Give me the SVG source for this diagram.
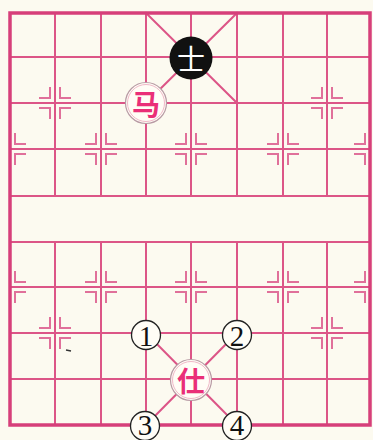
<svg xmlns="http://www.w3.org/2000/svg" width="373" height="440" viewBox="0 0 373 440">
<defs>
<style>
.ln{stroke:#dc5587;stroke-width:2;fill:none;stroke-linecap:square}
.bd{stroke:#d63f7a;stroke-width:3.5;fill:none}
.mk{stroke:#e0709a;stroke-width:2;fill:none}
.pc{fill:#fffdf6;stroke:#b89aa4;stroke-width:1.2}
.pr{fill:none;stroke:#f0b8c8;stroke-width:1}
.rt{font-family:"Noto Sans CJK SC","Noto Sans",sans-serif;font-size:28px;font-weight:bold;fill:#ea2f78;text-anchor:middle;dominant-baseline:central}
.bt{font-family:"Noto Sans CJK SC","Noto Sans",sans-serif;font-size:28px;fill:#ffffff;text-anchor:middle;dominant-baseline:central}
.nc{fill:#fffdf6;stroke:#222;stroke-width:1.3}
.nt{font-family:"Liberation Serif","DejaVu Serif",serif;font-size:29px;fill:#111;text-anchor:middle;dominant-baseline:central}
</style>
<g id="mkR"><path class="mk" d="M5,-16V-5H16M5,16V5H16"/></g>
<g id="mkL"><path class="mk" d="M-5,-16V-5H-16M-5,16V5H-16"/></g>
</defs>
<rect width="373" height="440" fill="#fcfaf0"/>
<g id="connectors">
<path class="ln" d="M10,57H370M10,103H370M10,149H370M10,196H370M10,242H370M10,287H370M10,333H370M10,379H370"/>
<path class="ln" d="M55,13V196M101,13V196M146,13V196M191,13V196M237,13V196M283,13V196M327,13V196"/>
<path class="ln" d="M55,242V425M101,242V425M146,242V425M191,242V425M237,242V425M283,242V425M327,242V425"/>
<path class="ln" d="M146,13L237,103M237,13L146,103M146,333L237,425M237,333L146,425"/>
<rect class="bd" x="10" y="13" width="360" height="412"/>
</g>
<g id="markers">
<use href="#mkR" x="10" y="149"/>
<use href="#mkL" x="101" y="149"/><use href="#mkR" x="101" y="149"/>
<use href="#mkL" x="191" y="149"/><use href="#mkR" x="191" y="149"/>
<use href="#mkL" x="283" y="149"/><use href="#mkR" x="283" y="149"/>
<use href="#mkL" x="370" y="149"/>
<use href="#mkL" x="55" y="103"/><use href="#mkR" x="55" y="103"/>
<use href="#mkL" x="327" y="103"/><use href="#mkR" x="327" y="103"/>
<use href="#mkR" x="10" y="287"/>
<use href="#mkL" x="101" y="287"/><use href="#mkR" x="101" y="287"/>
<use href="#mkL" x="191" y="287"/><use href="#mkR" x="191" y="287"/>
<use href="#mkL" x="283" y="287"/><use href="#mkR" x="283" y="287"/>
<use href="#mkL" x="370" y="287"/>
<use href="#mkL" x="55" y="333"/><use href="#mkR" x="55" y="333"/>
<use href="#mkL" x="327" y="333"/><use href="#mkR" x="327" y="333"/>
</g>
<path d="M66,350L71,351" stroke="#333" stroke-width="1.5"/>
<g id="black-shi">
<circle cx="191" cy="58" r="21.5" fill="#111"/>
<text class="bt" x="191" y="58">士</text>
</g>
<g id="red-ma">
<circle class="pc" cx="146" cy="103" r="20.5"/>
<circle class="pr" cx="146" cy="103" r="18.5"/>
<text class="rt" x="146" y="103">马</text>
</g>
<g id="red-shi">
<circle class="pc" cx="191" cy="380" r="20.5"/>
<circle class="pr" cx="191" cy="380" r="18.5"/>
<text class="rt" x="191" y="380">仕</text>
</g>
<g id="n1"><circle class="nc" cx="146" cy="335" r="14.5"/><text class="nt" x="146" y="336">1</text></g>
<g id="n2"><circle class="nc" cx="237" cy="335" r="14.5"/><text class="nt" x="237" y="336">2</text></g>
<g id="n3"><circle class="nc" cx="145" cy="426" r="14.5"/><text class="nt" x="145" y="425">3</text></g>
<g id="n4"><circle class="nc" cx="237" cy="426" r="14.5"/><text class="nt" x="237" y="425">4</text></g>
</svg>
